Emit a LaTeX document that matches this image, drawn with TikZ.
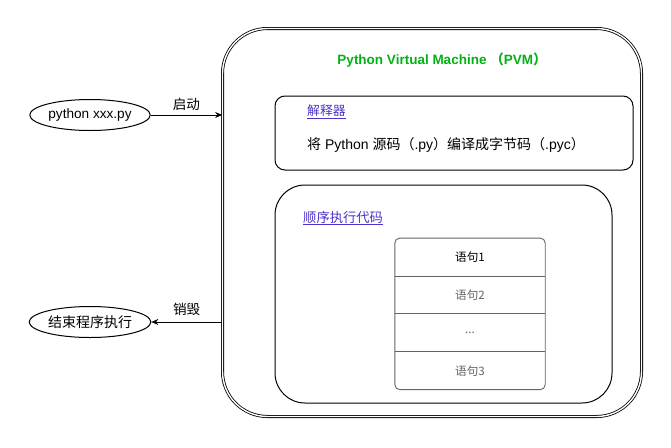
\documentclass[tikz,border=0pt]{standalone}
\usepackage{fontspec}
\setmainfont{Liberation Sans}
\newfontfamily\cjk{Noto Sans CJK SC}
\usetikzlibrary{positioning}
\usetikzlibrary{fit}
\usetikzlibrary{shapes.geometric}
\usetikzlibrary{arrows.meta}
\definecolor{pvmgreen}{RGB}{0,178,20}
\definecolor{linkblue}{RGB}{80,50,200}
\definecolor{rowgray}{RGB}{100,100,100}
\tikzset{
	terminal/.style={ellipse, draw, line width=1pt, minimum width=100pt, minimum height=31pt, inner sep=1pt, font=\fontsize{13.6}{15}\selectfont},
	panel/.style={rectangle, draw, line width=1pt},
	row/.style={minimum width=150pt, minimum height=37.5pt, inner sep=0pt, font=\cjk\fontsize{11.6}{13}\selectfont},
	flow/.style={-{Stealth[length=7pt,width=6pt]}, line width=1pt},
	linktext/.style={text=linkblue, inner sep=0pt, anchor=west, font=\cjk\fontsize{12.8}{14}\selectfont},
	edgelabel/.style={font=\cjk\fontsize{13.6}{15}\selectfont}
}
\newcommand{\lnk}[1]{\underline{#1}}
\begin{document}
\begin{tikzpicture}[x=1pt,y=-1pt]
		\useasboundingbox (0,0) rectangle (671,447);
		\node [panel, double, double distance=1.4pt, line width=0.8pt, rounded corners=45pt, minimum width=419pt, minimum height=388pt] at (432,222.5) (pvm) {};
		\node [text=pvmgreen, font=\bfseries\fontsize{13.5}{15}\selectfont] at (442,60) (pvmTitle) {Python Virtual Machine {\cjk （}PVM{\cjk ）}};
		\node [panel, rounded corners=10pt, minimum width=358pt, minimum height=74pt] at (454,133) (interp) {};
		\node [linktext] at (307,112) (interpTitle) {\lnk{解释器}};
		\node [anchor=west, inner sep=0pt, font=\fontsize{14}{16}\selectfont] at (307,145) (interpText) {{\cjk 将} Python {\cjk 源码（}.py{\cjk ）编译成字节码（}.pyc{\cjk ）}};
		\node [panel, rounded corners=30pt, minimum width=337pt, minimum height=218pt] at (443.5,294) (exec) {};
		\node [linktext, font=\cjk\fontsize{13.3}{15}\selectfont] at (303,218) (execTitle) {\lnk{顺序执行代码}};
		% statement stack
		\node [row] at (470,257) (s1) {语句1};
		\node [row, text=rowgray, below=0pt of s1] (s2) {语句2};
		\node [row, text=rowgray, below=0pt of s2] (s3) {...};
		\node [row, text=rowgray, below=0pt of s3] (s4) {语句3};
		\node [draw=rowgray, line width=0.9pt, rounded corners=5pt, inner sep=0pt, fit=(s1) (s4)] (stack) {};
		\foreach \r in {s1,s2,s3}
			\draw [rowgray, line width=0.9pt] (\r.south west) -- (\r.south east);
		% start and end
		\node [terminal] at (90,115) (start) {python xxx.py};
		\node [terminal, font=\cjk\fontsize{14}{16}\selectfont] at (90,322) (finish) {结束程序执行};
		\draw [flow] (start.east) -- (start.east -| pvm.west) node [midway, above=1pt, edgelabel] {启动};
		\draw [flow] (finish.east -| pvm.west) -- (finish.east) node [midway, above=3pt, edgelabel] {销毁};
		
		\end{tikzpicture}
\end{document}
